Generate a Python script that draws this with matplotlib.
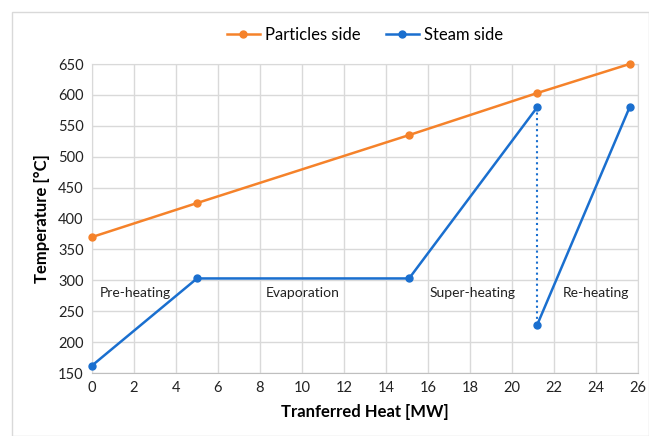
import matplotlib
matplotlib.use("Agg")
import matplotlib.pyplot as plt
from matplotlib.patches import Rectangle

plt.rcParams['font.family'] = ['Lato', 'DejaVu Sans']

particles_x = [0, 5.0, 15.1, 21.2, 25.6]
particles_y = [370, 425, 535, 603, 650]

steam_x1 = [0, 5.0, 15.1, 21.2]
steam_y1 = [162, 303, 303, 580]
steam_x2 = [21.2, 25.6]
steam_y2 = [228, 580]

labels = ["Pre-heating", "Evaporation", "Super-heating", "Re-heating"]
label_x = [2.05, 10.05, 18.1, 24.0]
label_y = [280, 280, 280, 280]

orange = '#f5822a'
blue = '#1a6fcf'

fig = plt.figure(figsize=(6.49, 4.36), dpi=100)
ax = fig.add_axes([92/649, 1-373/436, (638-92)/649, (373-64)/436])

fig.patches.append(Rectangle((12/649, 0.0), 1-12/649-0.5/649, 1-12/436, transform=fig.transFigure,
                             fill=False, edgecolor='#d9d9d9', linewidth=1))

ax.plot(particles_x, particles_y, color=orange, marker='o', markersize=5, linewidth=1.8,
        label='Particles side', clip_on=False, zorder=3)
ax.plot(steam_x1, steam_y1, color=blue, marker='o', markersize=5, linewidth=1.8,
        label='Steam side', clip_on=False, zorder=3)
ax.plot(steam_x2, steam_y2, color=blue, marker='o', markersize=5, linewidth=1.8, clip_on=False, zorder=3)
ax.plot([steam_x1[-1], steam_x2[0]], [steam_y1[-1], steam_y2[0]], color=blue, linestyle=':', linewidth=1.5)

for t, x, y in zip(labels, label_x, label_y):
    ax.text(x, y, t, ha='center', va='center', fontsize=10, color='#222222')

ax.set_xlim(0, 26)
ax.set_ylim(150, 650)
ax.set_xticks(range(0, 27, 2))
ax.set_yticks(range(150, 651, 50))
ax.grid(True, color='#d9d9d9', linewidth=1)
ax.set_axisbelow(True)
for s in ['top', 'right', 'left']:
    ax.spines[s].set_color('#d9d9d9')
ax.spines['bottom'].set_color('#bfbfbf')
ax.tick_params(length=0, labelsize=10.5, colors='#222222', pad=6)

ax.set_xlabel('Tranferred Heat [MW]', fontsize=12, fontweight='bold', labelpad=6)
ax.set_ylabel('Temperature [°C]', fontsize=12, fontweight='bold', labelpad=6)

ax.legend(loc='lower center', bbox_to_anchor=(0.5, 1.02), ncol=2, frameon=False, fontsize=12,
          handlelength=2.0, columnspacing=1.5, handletextpad=0.3)

fig.savefig('out.png', dpi=100)
